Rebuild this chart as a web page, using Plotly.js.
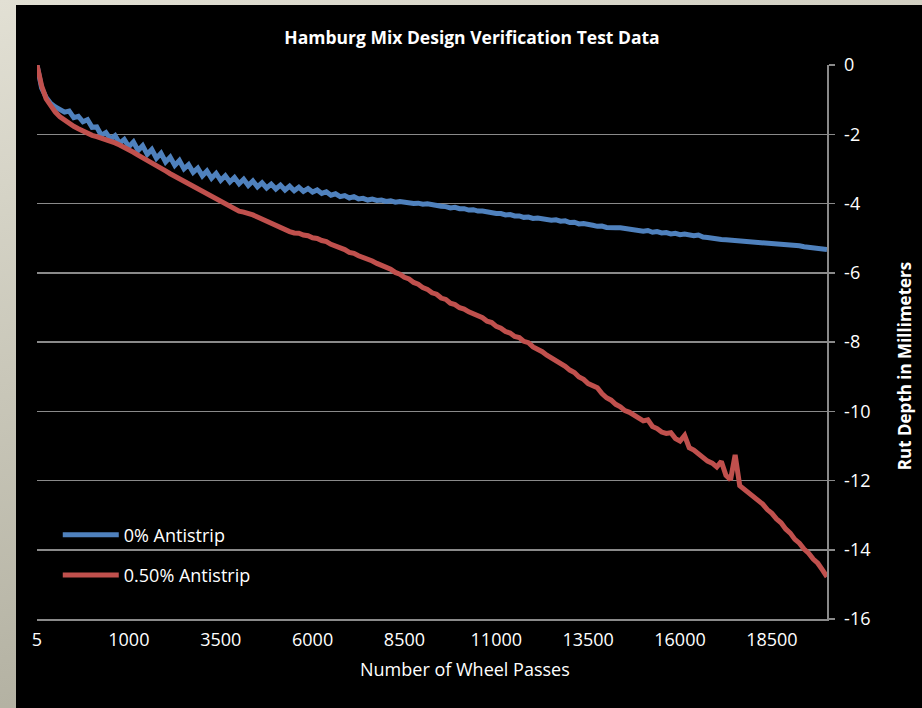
<!DOCTYPE html>
<html>
<head>
<meta charset="utf-8">
<script src="https://cdn.plot.ly/plotly-3.0.1.min.js"></script>
<style>
  html, body { margin: 0; padding: 0; width: 922px; height: 708px; overflow: hidden; }
  body { background: linear-gradient(165deg, #e2e0d4 0%, #c9c7b9 40%, #a4a292 100%); }
  #chart { position: absolute; left: 16px; top: 5px; width: 906px; height: 703px; }
</style>
</head>
<body>
<div id="chart"></div>
<script>
// Number of wheel passes (category axis, as in the source chart)
const passes = [
  5,50,100,150,200,250,300,350,400,450,500,550,600,650,700,750,800,850,900,950,
  1000,1125,1250,1375,1500,1625,1750,1875,2000,2125,2250,2375,2500,2625,2750,2875,3000,3125,3250,3375,
  3500,3625,3750,3875,4000,4125,4250,4375,4500,4625,4750,4875,5000,5125,5250,5375,5500,5625,5750,5875,
  6000,6125,6250,6375,6500,6625,6750,6875,7000,7125,7250,7375,7500,7625,7750,7875,8000,8125,8250,8375,
  8500,8625,8750,8875,9000,9125,9250,9375,9500,9625,9750,9875,10000,10125,10250,10375,10500,10625,10750,10875,
  11000,11125,11250,11375,11500,11625,11750,11875,12000,12125,12250,12375,12500,12625,12750,12875,13000,13125,13250,13375,
  13500,13625,13750,13875,14000,14125,14250,14375,14500,14625,14750,14875,15000,15125,15250,15375,15500,15625,15750,15875,
  16000,16125,16250,16375,16500,16625,16750,16875,17000,17125,17250,17375,17500,17625,17750,17875,18000,18125,18250,18375,
  18500,18625,18750,18875,19000,19125,19250,19375,19500,19625,19750,19875,20000
];

// Rut depth (mm), 0% antistrip
const rut0 = [
  0,-0.66,-0.94,-1.11,-1.21,-1.27,-1.36,-1.33,-1.52,-1.48,-1.64,-1.58,-1.80,-1.79,-2.03,-1.95,-2.14,-2.04,-2.26,-2.15,
  -2.36,-2.22,-2.47,-2.33,-2.58,-2.44,-2.69,-2.55,-2.80,-2.66,-2.90,-2.76,-3.00,-2.88,-3.10,-2.98,-3.20,-3.06,-3.27,-3.13,
  -3.33,-3.20,-3.38,-3.25,-3.43,-3.30,-3.48,-3.35,-3.52,-3.40,-3.55,-3.44,-3.58,-3.47,-3.61,-3.50,-3.63,-3.53,-3.65,-3.57,
  -3.67,-3.61,-3.71,-3.66,-3.76,-3.72,-3.80,-3.77,-3.84,-3.80,-3.87,-3.85,-3.90,-3.87,-3.91,-3.90,-3.94,-3.92,-3.96,-3.94,
  -3.97,-3.97,-4.00,-3.99,-4.02,-4.01,-4.04,-4.05,-4.08,-4.09,-4.13,-4.11,-4.15,-4.15,-4.19,-4.18,-4.22,-4.22,-4.25,-4.25,
  -4.29,-4.29,-4.33,-4.32,-4.36,-4.36,-4.40,-4.39,-4.43,-4.42,-4.45,-4.45,-4.48,-4.47,-4.51,-4.50,-4.55,-4.54,-4.59,-4.58,
  -4.62,-4.63,-4.66,-4.65,-4.69,-4.68,-4.70,-4.70,-4.72,-4.72,-4.76,-4.76,-4.80,-4.78,-4.83,-4.81,-4.85,-4.84,-4.88,-4.86,
  -4.90,-4.88,-4.90,-4.93,-4.91,-4.97,-4.98,-5.01,-5.03,-5.04,-5.05,-5.06,-5.08,-5.07,-5.10,-5.09,-5.11,-5.12,-5.14,-5.13,
  -5.16,-5.17,-5.18,-5.19,-5.21,-5.20,-5.22,-5.25,-5.26,-5.28,-5.29,-5.31,-5.33
];

// Rut depth (mm), 0.50% antistrip
const rut050 = [
  0,-0.60,-0.98,-1.20,-1.36,-1.50,-1.60,-1.69,-1.77,-1.84,-1.91,-1.97,-2.03,-2.07,-2.11,-2.15,-2.20,-2.25,-2.31,-2.37,
  -2.44,-2.52,-2.60,-2.67,-2.75,-2.82,-2.90,-2.98,-3.06,-3.14,-3.21,-3.28,-3.36,-3.42,-3.51,-3.59,-3.67,-3.72,-3.81,-3.86,
  -3.95,-4.00,-4.09,-4.14,-4.22,-4.25,-4.31,-4.33,-4.39,-4.45,-4.52,-4.57,-4.66,-4.70,-4.76,-4.81,-4.85,-4.86,-4.91,-4.93,
  -4.99,-5.01,-5.07,-5.10,-5.18,-5.22,-5.29,-5.33,-5.41,-5.44,-5.51,-5.55,-5.62,-5.66,-5.73,-5.78,-5.86,-5.90,-5.99,-6.04,
  -6.13,-6.18,-6.28,-6.33,-6.43,-6.48,-6.58,-6.62,-6.73,-6.77,-6.88,-6.92,-7.01,-7.05,-7.13,-7.18,-7.26,-7.30,-7.40,-7.44,
  -7.55,-7.60,-7.70,-7.74,-7.84,-7.87,-7.98,-8.02,-8.14,-8.20,-8.28,-8.38,-8.46,-8.52,-8.58,-8.70,-8.81,-8.88,-9.01,-9.08,
  -9.20,-9.27,-9.32,-9.49,-9.61,-9.68,-9.80,-9.87,-9.98,-10.03,-10.12,-10.18,-10.28,-10.25,-10.44,-10.50,-10.60,-10.64,-10.62,-10.79,
  -10.86,-10.70,-11.05,-11.12,-11.24,-11.32,-11.44,-11.50,-11.61,-11.45,-11.85,-11.98,-11.26,-12.15,-12.25,-12.38,-12.46,-12.59,-12.68,-12.84,
  -12.95,-13.11,-13.22,-13.40,-13.52,-13.70,-13.81,-13.98,-14.10,-14.27,-14.39,-14.58,-14.78
];

const seriesNames = ['0% Antistrip', '0.50% Antistrip'];
const xTickVals = [5, 1000, 3500, 6000, 8500, 11000, 13500, 16000, 18500];
const yTickVals = [0, -2, -4, -6, -8, -10, -12, -14, -16];
const yTickText = ['0', '-2', '-4', '-6', '-8', '-10', '-12', '-14', '-16'];

const FONT = '"Open Sans", "Liberation Sans", sans-serif';
const GRID = '#8a8a8a';

const traces = [
  { x: passes, y: rut0, type: 'scatter', mode: 'lines', name: seriesNames[0], legendgroup: 'a',
    line: { color: '#4F81BD', width: 5 } },
  { x: passes, y: rut050, type: 'scatter', mode: 'lines', name: seriesNames[1], legendgroup: 'b',
    line: { color: '#C0504D', width: 5 } }
];

const layout = {
  width: 906, height: 703,
  paper_bgcolor: '#000000', plot_bgcolor: '#000000',
  margin: { l: 21, r: 95, t: 60, b: 89 },
  font: { family: FONT, color: '#ffffff', size: 18 },
  title: { text: 'Hamburg Mix Design Verification Test Data',
    font: { family: FONT, size: 17.5, color: '#ffffff', weight: 'bold' },
    xref: 'container', yref: 'container', x: 0.5033, y: 0.953, xanchor: 'center', yanchor: 'middle' },
  xaxis: {
    type: 'category', range: [0, passes.length - 1],
    tickmode: 'array', tickvals: xTickVals, ticktext: xTickVals.map(String),
    showgrid: false, showline: true, linecolor: GRID, linewidth: 1.5,
    ticks: '', ticklabelstandoff: 4, tickfont: { family: FONT, size: 18, color: '#ffffff' },
    zeroline: false, fixedrange: true
  },
  yaxis: {
    side: 'right', range: [-16, 0],
    tickmode: 'array', tickvals: yTickVals, ticktext: yTickText,
    showgrid: true, gridcolor: GRID, gridwidth: 1.5,
    showline: true, linecolor: GRID, linewidth: 1.5,
    ticks: 'outside', ticklen: 6, tickcolor: GRID, tickwidth: 1.5,
    ticklabelstandoff: 6,
    tickfont: { family: FONT, size: 18, color: '#ffffff' },
    zeroline: false, fixedrange: true
  },
  showlegend: true,
  legend: {
    x: 0.0263, y: 0.185, xanchor: 'left', yanchor: 'top',
    bgcolor: 'rgba(0,0,0,0)', borderwidth: 0,
    font: { family: FONT, size: 18, color: '#ffffff' },
    itemwidth: 56, tracegroupgap: 14, traceorder: 'grouped'
  },
  annotations: [
    { text: 'Number of Wheel Passes', xref: 'paper', yref: 'paper', x: 0.5418, y: -0.0903,
      xanchor: 'center', yanchor: 'middle', showarrow: false,
      font: { family: FONT, size: 18, color: '#ffffff' } },
    { text: 'Rut Depth in Millimeters', xref: 'paper', yref: 'paper', x: 1.099, y: 0.4567,
      xanchor: 'center', yanchor: 'middle', showarrow: false, textangle: -90,
      font: { family: FONT, size: 17, color: '#ffffff', weight: 'bold' } }
  ]
};

Plotly.newPlot('chart', traces, layout, { displayModeBar: false, staticPlot: true });
</script>
</body>
</html>
